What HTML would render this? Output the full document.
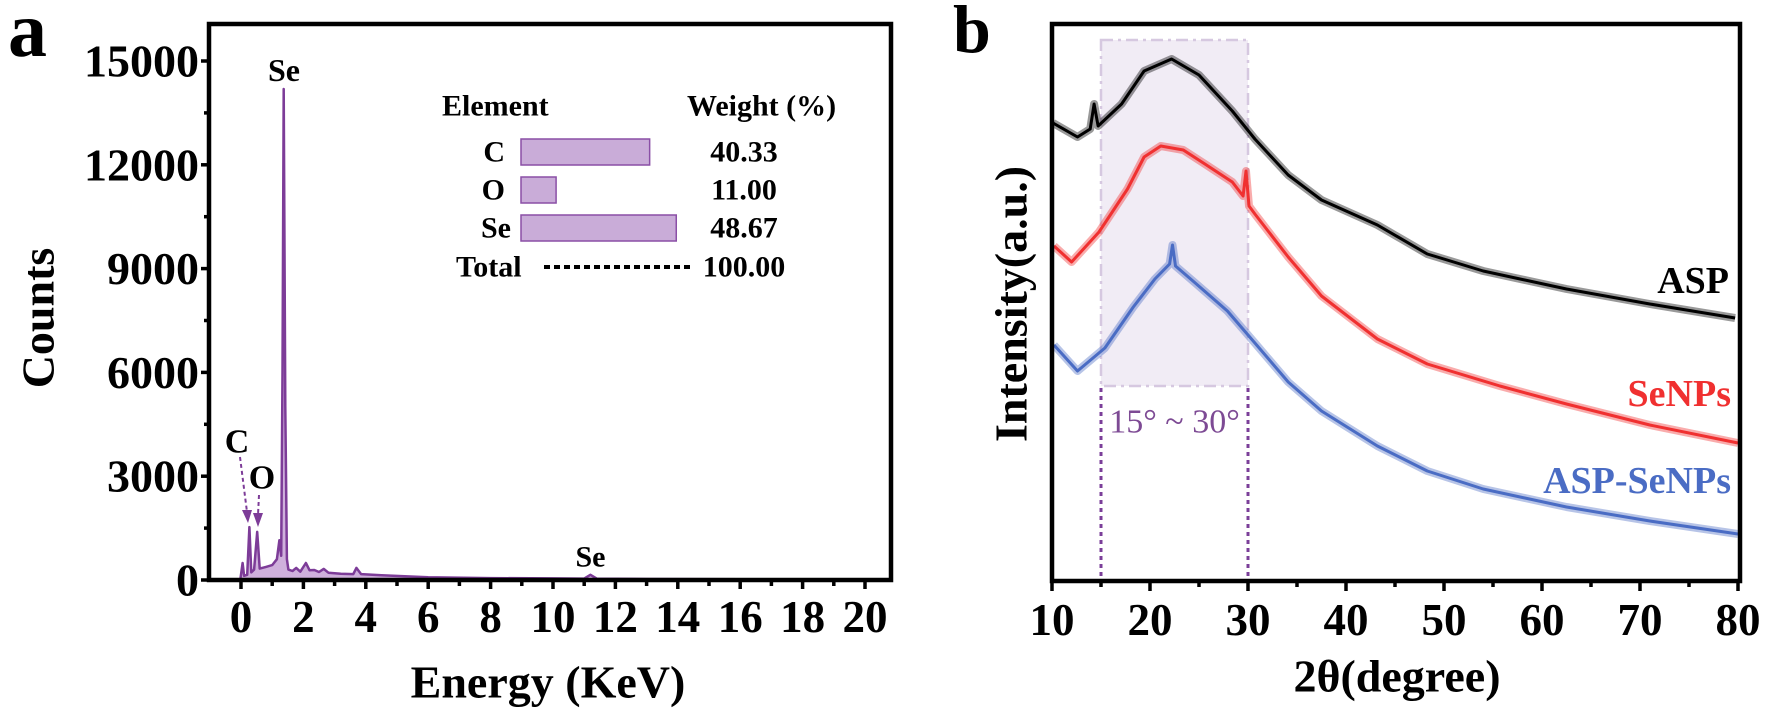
<!DOCTYPE html>
<html><head><meta charset="utf-8">
<style>
html,body{margin:0;padding:0;background:#fff;}
svg{display:block;font-family:"Liberation Serif","Times New Roman",serif;font-weight:bold;}
</style></head>
<body>
<svg id="fig" width="1772" height="720" viewBox="0 0 1772 720" xmlns="http://www.w3.org/2000/svg">
<g id="pa"></g>
<g id="pb"></g>
</svg>
<script>
// ---------- Panel a data ----------
const edsEnergy = [-0.15,-0.02,0.05,0.1,0.2,0.27,0.33,0.42,0.52,0.6,0.8,1.0,1.15,1.23,1.29,1.33,1.37,1.42,1.47,1.52,1.65,1.77,1.9,2.08,2.2,2.35,2.5,2.65,2.8,3.2,3.6,3.7,3.85,4.5,6,8,10,11.0,11.2,11.4,13,16,20.5];
const edsCounts = [0,30,490,120,150,1530,220,300,1390,330,380,430,600,1150,700,6000,14190,5000,600,300,260,350,240,490,280,290,230,320,210,180,170,350,170,140,80,55,45,40,150,40,30,20,15];
const yTicksA = [0,3000,6000,9000,12000,15000];
const xTicksA = [0,2,4,6,8,10,12,14,16,18,20];
const tableElements = ["C","O","Se"];
const tableWeights = [40.33,11.00,48.67];
const tableTotal = "100.00";

// ---------- Panel b data ----------
const xTicksB = [10,20,30,40,50,60,70,80];
const aspDeg = [10.1,12.6,13.9,14.3,14.7,17.1,19.4,22.2,25,28.4,30.7,34.1,37.5,43.2,48.3,54,62.5,71,79.7];
const aspInt = [458,444,452,477,455,477,510,522,506,470,442,406,381,356,327,310,292,277,263];
const seDeg = [10.2,12,14.8,17.7,19.4,21.1,23.4,25.6,28.4,29.5,29.8,30.1,30.7,34.1,37.5,43.2,48.3,55.7,62.5,71,80];
const seInt = [335,319,349,392,424,435,431,417,399,385,410,375,367,324,285,242,217,195,177,156,138];
const apDeg = [10.2,12.6,15.4,18.3,20.5,22.0,22.3,22.6,24.5,27.9,30.7,34.1,37.5,43.2,48.3,54,62.5,71,80];
const apInt = [236,210,233,274,302,317,336,315,299,270,238,199,170,135,110,92,74,60,47];

const NS="http://www.w3.org/2000/svg";
function mk(parent,tag,attrs,text){const e=document.createElementNS(NS,tag);for(const k in attrs)e.setAttribute(k,attrs[k]);if(text!==undefined)e.textContent=text;parent.appendChild(e);return e;}

// ===== Panel a =====
const pa=document.getElementById('pa');
const AL=209,AR=891,AT=24,AB=580;
const xA=e=>241+e*31.2;
const yA=c=>AB-c*(AB-61)/15000;

let t=mk(pa,'text',{x:8,y:56,'font-size':78});t.textContent='a';



let pts=edsEnergy.map((e,i)=>xA(e).toFixed(1)+','+yA(edsCounts[i]).toFixed(1));
let fill=mk(pa,'polygon',{points:xA(edsEnergy[0])+','+AB+' '+pts.join(' ')+' '+xA(edsEnergy[edsEnergy.length-1])+','+AB,fill:'#cfb0dc',stroke:'none'});


let line=mk(pa,'polyline',{points:pts.join(' '),fill:'none',stroke:'#7d3c98','stroke-width':2.5,'stroke-linejoin':'round'});



let fr=mk(pa,'rect',{x:AL,y:AT,width:AR-AL,height:AB-AT,fill:'none',stroke:'#000','stroke-width':4.5});



for(let v=0;v<=15000;v+=1500){const y=yA(v);const maj=v%3000===0;
 let tk=mk(pa,'line',{x1:AL-(maj?8:5),x2:AL,y1:y,y2:y,stroke:'#000','stroke-width':3.5});
 
 }
yTicksA.forEach(v=>{let l=mk(pa,'text',{x:AL-10,y:yA(v),'font-size':46,'text-anchor':'end','dominant-baseline':'central'},String(v));
 
 });
for(let v=0;v<=20;v+=1){const x=xA(v);const maj=v%2===0;
 let tk=mk(pa,'line',{x1:x,x2:x,y1:AB,y2:AB+(maj?9:6),stroke:'#000','stroke-width':3.5});
 
 }
xTicksA.forEach(v=>{let l=mk(pa,'text',{x:xA(v),y:617,'font-size':45,'text-anchor':'middle','dominant-baseline':'central'},String(v));
 
 });
t=mk(pa,'text',{x:548,y:682,'font-size':46,'text-anchor':'middle','dominant-baseline':'central'},'Energy (KeV)');


t=mk(pa,'text',{x:0,y:0,'font-size':46,'text-anchor':'middle','dominant-baseline':'central',transform:'translate(38,318) rotate(-90)'},'Counts');



t=mk(pa,'text',{x:284,y:70,'font-size':32,'text-anchor':'middle','dominant-baseline':'central'},'Se');


t=mk(pa,'text',{x:xA(11.2),y:557,'font-size':30,'text-anchor':'middle','dominant-baseline':'central'},'Se');


t=mk(pa,'text',{x:237,y:442,'font-size':34,'text-anchor':'middle','dominant-baseline':'central'},'C');


t=mk(pa,'text',{x:262,y:478,'font-size':34,'text-anchor':'middle','dominant-baseline':'central'},'O');


let ar=mk(pa,'line',{x1:240,y1:457,x2:247,y2:512,stroke:'#7d3c98','stroke-width':2,'stroke-dasharray':'4,3'});


ar=mk(pa,'polygon',{points:'242,510 252,510 248,523',fill:'#7d3c98'});


ar=mk(pa,'line',{x1:259,y1:495,x2:258,y2:515,stroke:'#7d3c98','stroke-width':2,'stroke-dasharray':'4,3'});


ar=mk(pa,'polygon',{points:'253,513 263,513 258,527',fill:'#7d3c98'});



t=mk(pa,'text',{x:442,y:106,'font-size':30,'dominant-baseline':'central'},'Element');


t=mk(pa,'text',{x:687,y:106,'font-size':30,'dominant-baseline':'central'},'Weight (%)');


const rowY=[152,190,228];
const barX=521,barScale=3.19;
tableElements.forEach((el,i)=>{
 let l=mk(pa,'text',{x:i===2?511:505,y:rowY[i],'font-size':30,'text-anchor':'end','dominant-baseline':'central'},el);
 
 
 let b=mk(pa,'rect',{x:barX,y:rowY[i]-13,width:tableWeights[i]*barScale,height:26,fill:'#c9acd8',stroke:'#8a4fa6','stroke-width':1.5});
 
 
 let v=mk(pa,'text',{x:744,y:rowY[i],'font-size':30,'text-anchor':'middle','dominant-baseline':'central'},tableWeights[i].toFixed(2));
 
 
});
t=mk(pa,'text',{x:456,y:267,'font-size':30,'dominant-baseline':'central'},'Total');


let dl=mk(pa,'line',{x1:544,x2:690,y1:267,y2:267,stroke:'#000','stroke-width':4,'stroke-dasharray':'6,4'});


t=mk(pa,'text',{x:744,y:267,'font-size':30,'text-anchor':'middle','dominant-baseline':'central'},tableTotal);



// ===== Panel b =====
const pb=document.getElementById('pb');
const BL=1052,BR=1740,BT=24,BB=581;
const xB=d=>BL+(d-10)*9.8;
const yB=v=>BB-v;

t=mk(pb,'text',{x:953,y:52,'font-size':68},'b');



let sh=mk(pb,'rect',{x:xB(15),y:40,width:xB(30)-xB(15),height:346,fill:'#f1ecf5',stroke:'#d6c8e0','stroke-width':2.5,'stroke-dasharray':'12,5,3,5'});


[15,30].forEach(d=>{let v=mk(pb,'line',{x1:xB(d),x2:xB(d),y1:388,y2:BB,stroke:'#7b3f99','stroke-width':3,'stroke-dasharray':'4,4'});
 
 });
t=mk(pb,'text',{x:(xB(15)+xB(30))/2,y:422,'font-size':34,'font-weight':'normal','text-anchor':'middle','dominant-baseline':'central',fill:'#7d4a94'},'15° ~ 30°');



function series(deg,val,color,name){
 const p=deg.map((d,i)=>xB(d).toFixed(1)+','+yB(val[i]).toFixed(1)).join(' ');
 let halo=mk(pb,'polyline',{points:p,fill:'none',stroke:color,'stroke-width':8,'stroke-opacity':0.4,'stroke-linejoin':'round'});
 
 
 let l=mk(pb,'polyline',{points:p,fill:'none',stroke:color,'stroke-width':3,'stroke-linejoin':'round'});
 
 
}
series(aspDeg,aspInt,'#000000','asp');
series(seDeg,seInt,'#f03030','senps');
series(apDeg,apInt,'#4a6cc4','asp-senps');

t=mk(pb,'text',{x:1729,y:281,'font-size':38,'text-anchor':'end','dominant-baseline':'central',fill:'#000'},'ASP');


t=mk(pb,'text',{x:1731,y:394,'font-size':38,'text-anchor':'end','dominant-baseline':'central',fill:'#f03030'},'SeNPs');


t=mk(pb,'text',{x:1731,y:481,'font-size':38,'text-anchor':'end','dominant-baseline':'central',fill:'#4a6cc4'},'ASP-SeNPs');



fr=mk(pb,'rect',{x:BL,y:BT,width:BR-BL,height:BB-BT,fill:'none',stroke:'#000','stroke-width':4.5});


for(let d=10;d<=80;d+=5){const x=xB(d);const maj=d%10===0;
 let tk=mk(pb,'line',{x1:x,x2:x,y1:BB,y2:BB+(maj?10:6),stroke:'#000','stroke-width':3.5});
 
 }
xTicksB.forEach(v=>{let l=mk(pb,'text',{x:xB(v),y:620,'font-size':45,'text-anchor':'middle','dominant-baseline':'central'},String(v));
 
 });
t=mk(pb,'text',{x:1397,y:676,'font-size':46,'text-anchor':'middle','dominant-baseline':'central'},'2θ(degree)');


t=mk(pb,'text',{x:0,y:0,'font-size':46,'text-anchor':'middle','dominant-baseline':'central',transform:'translate(1011,304) rotate(-90)'},'Intensity(a.u.)');


</script>
</body></html>
